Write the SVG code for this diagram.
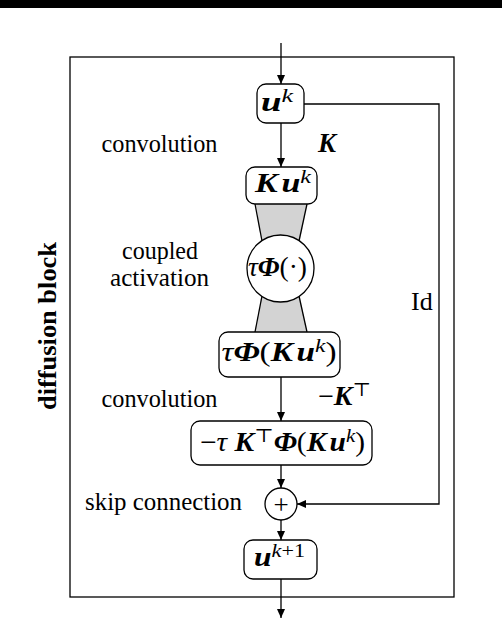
<svg xmlns="http://www.w3.org/2000/svg" width="502" height="620" viewBox="0 0 502 620">
<style>
  .ln{stroke:#000;stroke-width:1.3;fill:none}
  .box{fill:#fff;stroke:#000;stroke-width:1.3}
  .t{font-family:"Liberation Serif","DejaVu Serif",serif;font-size:26px;fill:#000}
  .m{font-family:"Liberation Serif","DejaVu Serif",serif;font-size:27px;fill:#000}
  .b{font-weight:bold;font-style:italic}
  .i{font-style:italic}
  .sup{font-size:19px}
</style>
<defs>
  <marker id="ah" markerWidth="10" markerHeight="10" refX="9" refY="4" orient="auto" markerUnits="userSpaceOnUse">
    <path d="M0,0 L9,4 L0,8 Z" fill="#000"/>
  </marker>
</defs>
<rect x="0" y="0" width="502" height="8" fill="#000"/>
<rect x="70" y="57" width="384" height="540" class="ln"/>
<text class="t" transform="translate(56,326) rotate(-90)" text-anchor="middle" font-weight="bold" font-size="25" textLength="168" lengthAdjust="spacingAndGlyphs">diffusion block</text>

<g id="trapezoids">
  <polygon points="255,204 307,204 299,245 262,245" fill="#d3d3d3" stroke="none"/>
  <line x1="255" y1="204" x2="262" y2="241" class="ln"/>
  <line x1="307" y1="204" x2="299" y2="241" class="ln"/>
  <polygon points="262,292 299,292 307,332 255,332" fill="#d3d3d3" stroke="none"/>
  <line x1="262" y1="296" x2="255" y2="332" class="ln"/>
  <line x1="299" y1="296" x2="307" y2="332" class="ln"/>
</g>

<g id="connectors">
  <line x1="281" y1="43" x2="281" y2="84" class="ln" marker-end="url(#ah)"/>
  <line x1="281" y1="123" x2="281" y2="167" class="ln" marker-end="url(#ah)"/>
  <line x1="281" y1="377" x2="281" y2="421" class="ln" marker-end="url(#ah)"/>
  <line x1="281" y1="465" x2="281" y2="488" class="ln" marker-end="url(#ah)"/>
  <line x1="281" y1="520" x2="281" y2="540" class="ln" marker-end="url(#ah)"/>
  <line x1="281" y1="579" x2="281" y2="618" class="ln" marker-end="url(#ah)"/>
  <polyline points="304,104 439,104 439,504 297,504" class="ln" marker-end="url(#ah)"/>
</g>

<g id="uk">
  <rect x="257" y="84" width="47" height="39" rx="9" class="box"/>
  <text class="m" x="277" y="111" text-anchor="middle" textLength="32" lengthAdjust="spacingAndGlyphs"><tspan class="b">u</tspan><tspan class="i sup" dy="-9">k</tspan></text>
</g>
<g id="Kuk">
  <rect x="246" y="167" width="71" height="37" rx="9" class="box"/>
  <text class="m" x="283" y="192" text-anchor="middle" textLength="56" lengthAdjust="spacingAndGlyphs"><tspan class="b">K</tspan><tspan class="b" dx="3">u</tspan><tspan class="i sup" dy="-9">k</tspan></text>
</g>
<g id="act">
  <circle cx="280.5" cy="268.5" r="33.5" class="box"/>
  <text class="m" x="277.5" y="276" text-anchor="middle" textLength="59" lengthAdjust="spacingAndGlyphs"><tspan class="i">τ</tspan><tspan class="b">Φ</tspan>(·)</text>
</g>
<g id="tauPhi">
  <rect x="219" y="332" width="121" height="45" rx="9" class="box"/>
  <text class="m" x="279" y="361" text-anchor="middle" textLength="115" lengthAdjust="spacingAndGlyphs"><tspan class="i">τ</tspan><tspan class="b">Φ</tspan>(<tspan class="b">K</tspan><tspan class="b" dx="3">u</tspan><tspan class="i sup" dy="-9">k</tspan><tspan dy="9">)</tspan></text>
</g>
<g id="KT">
  <rect x="191" y="421" width="181" height="44" rx="9" class="box"/>
  <text class="m" x="282.5" y="451" text-anchor="middle" textLength="165" lengthAdjust="spacingAndGlyphs">−<tspan class="i">τ</tspan> <tspan class="b">K</tspan><tspan class="sup" dy="-9">⊤</tspan><tspan class="b" dy="9">Φ</tspan>(<tspan class="b">K</tspan><tspan class="b" dx="3">u</tspan><tspan class="i sup" dy="-9">k</tspan><tspan dy="9">)</tspan></text>
</g>
<g id="plus">
  <circle cx="281" cy="504" r="16" class="box"/>
  <text class="m" x="281" y="514" text-anchor="middle" font-size="30">+</text>
</g>
<g id="uk1">
  <rect x="244" y="540" width="73" height="39" rx="9" class="box"/>
  <text class="m" x="279.5" y="566" text-anchor="middle" textLength="51" lengthAdjust="spacingAndGlyphs"><tspan class="b">u</tspan><tspan class="sup" dy="-9"><tspan class="i">k</tspan>+1</tspan></text>
</g>

<g id="labels">
  <text class="t" x="159.5" y="152" text-anchor="middle" textLength="116" lengthAdjust="spacingAndGlyphs">convolution</text>
  <text class="m b" x="318" y="152">K</text>
  <text class="t" x="160" y="259" text-anchor="middle" font-size="22" textLength="76" lengthAdjust="spacingAndGlyphs">coupled</text>
  <text class="t" x="159.5" y="286" text-anchor="middle" font-size="22" textLength="99" lengthAdjust="spacingAndGlyphs">activation</text>
  <text class="t" x="159.5" y="407" text-anchor="middle" textLength="116" lengthAdjust="spacingAndGlyphs">convolution</text>
  <text class="m" x="318" y="405" textLength="53" lengthAdjust="spacingAndGlyphs">−<tspan class="b">K</tspan><tspan class="sup" dy="-9">⊤</tspan></text>
  <text class="t" x="163.5" y="510" text-anchor="middle" textLength="157" lengthAdjust="spacingAndGlyphs">skip connection</text>
  <text class="t" x="411" y="310">Id</text>
</g>
</svg>
